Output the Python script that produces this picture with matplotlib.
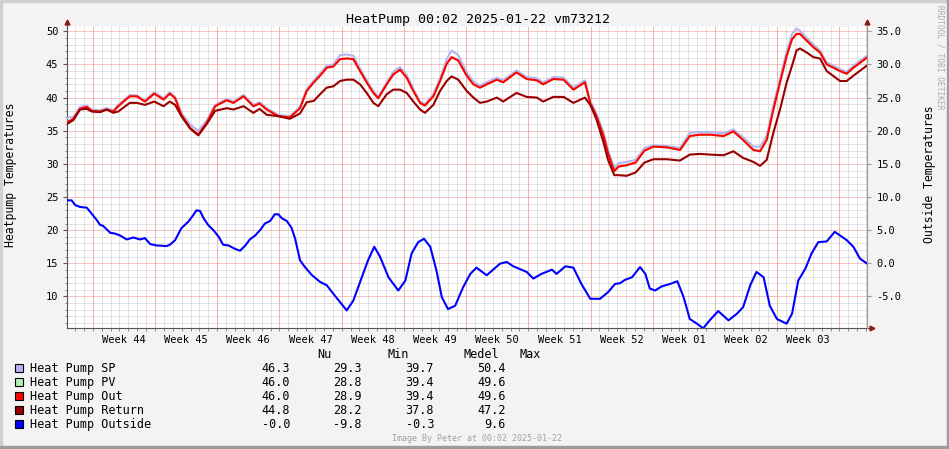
import numpy as np
import matplotlib
matplotlib.use("Agg")
import matplotlib.pyplot as plt
from matplotlib.patches import Rectangle

plt.rcParams['font.family'] = ['DejaVu Sans Mono']

# ---- data (days since start of the 90 day window) ----
heat_days = [0, 0.75, 1.5, 2.25, 2.8, 3.75, 4.5, 5.25, 5.8, 6.4, 7.1, 7.9, 8.8, 9.85, 10.9, 11.6,
             12.2, 12.9, 13.9, 14.8, 15.75, 16.7, 18, 18.75, 19.9, 21, 21.7, 22.5, 23.8, 25.1,
             26.25, 27, 27.8, 28.5, 29.25, 30, 30.75, 31.5, 32.25, 33, 33.75, 34.5, 35.05, 36,
             36.75, 37.5, 38.25, 39, 39.75, 40.3, 41.25, 42, 42.75, 43.3, 44.05, 45, 45.75, 46.5,
             47.25, 48.4, 49.1, 50.6, 51.75, 52.9, 53.6, 54.75, 55.9, 57, 58.3, 58.9, 59.6, 60.4,
             60.9, 61.6, 62.1, 63, 64, 65, 66, 67.5, 69, 70.1, 71.25, 72.4, 73.9, 75, 76.1, 77.25,
             78, 78.75, 79.5, 80.25, 81, 81.6, 82.1, 82.5, 83.25, 84, 84.75, 85.5, 87, 87.75,
             88.5, 90]
sp_vals = [36.9, 37.1, 38.6, 38.8, 38.2, 38.1, 38.4, 38.1, 38.9, 39.6, 40.4, 40.3, 39.6, 40.8, 39.9, 40.8,
           40.1, 37.7, 35.9, 35.0, 36.5, 38.9, 39.8, 39.4, 40.4, 38.9, 39.3, 38.4, 37.4, 37.2,
           38.6, 41.3, 42.6, 43.6, 44.8, 45.0, 46.4, 46.5, 46.3, 44.4, 42.6, 41.0, 40.1, 42.3,
           43.9, 44.6, 43.4, 41.3, 39.4, 39.0, 40.5, 42.9, 45.8, 47.1, 46.4, 43.8, 42.4, 41.8,
           42.3, 43.0, 42.6, 44.1, 43.1, 42.9, 42.3, 43.1, 43.0, 41.5, 42.6, 39.5, 37.6, 34.7,
           32.1, 29.4, 30.1, 30.3, 30.6, 32.4, 32.8, 32.7, 32.4, 34.7, 34.8, 34.8, 34.6, 35.2, 34.0, 32.6,
           32.6, 34.2, 38.8, 42.9, 47.0, 49.6, 50.4, 50.1, 49.0, 48.0, 47.1, 45.3, 44.3, 43.9,
           44.8, 46.3]
out_vals = [36.2, 36.8, 38.3, 38.6, 38.0, 37.9, 38.2, 37.9, 38.7, 39.4, 40.2, 40.2, 39.4, 40.6, 39.7, 40.6,
            39.9, 37.4, 35.4, 34.4, 36.2, 38.7, 39.6, 39.2, 40.2, 38.7, 39.1, 38.2, 37.2, 37.0,
            38.4, 41.0, 42.3, 43.3, 44.5, 44.7, 45.8, 45.9, 45.8, 44.0, 42.3, 40.7, 39.9, 42.0,
            43.5, 44.2, 43.0, 41.0, 39.2, 38.8, 40.2, 42.5, 45.1, 46.1, 45.6, 43.3, 42.0, 41.5,
            42.0, 42.7, 42.3, 43.8, 42.8, 42.6, 42.0, 42.8, 42.7, 41.2, 42.3, 39.2, 37.2, 34.2,
            31.6, 28.9, 29.6, 29.8, 30.2, 32.0, 32.6, 32.5, 32.1, 34.2, 34.4, 34.4, 34.2, 34.9, 33.6, 32.1,
            31.9, 33.6, 38.2, 42.3, 46.3, 48.8, 49.6, 49.6, 48.6, 47.6, 46.8, 45.0, 44.0, 43.6,
            44.5, 46.0]
# PV follows Out so closely that it is completely hidden underneath it
pv_vals = list(out_vals)
ret_vals = [36.0, 36.6, 38.2, 38.3, 37.9, 37.8, 38.2, 37.7, 37.9, 38.5, 39.2, 39.2, 38.9, 39.4, 38.7, 39.4,
            38.9, 37.2, 35.3, 34.3, 36.0, 38.0, 38.4, 38.2, 38.7, 37.7, 38.3, 37.4, 37.2, 36.8,
            37.6, 39.3, 39.5, 40.5, 41.5, 41.7, 42.5, 42.7, 42.7, 42.0, 40.7, 39.2, 38.7, 40.5,
            41.2, 41.2, 40.7, 39.4, 38.2, 37.7, 38.9, 41.0, 42.5, 43.2, 42.7, 41.0, 40.0, 39.2,
            39.4, 40.0, 39.4, 40.7, 40.1, 40.0, 39.4, 40.1, 40.1, 39.2, 40.0, 38.9, 36.7, 33.2,
            30.6, 28.3, 28.3, 28.2, 28.7, 30.2, 30.7, 30.7, 30.5, 31.4, 31.5, 31.4, 31.3, 31.9, 30.9, 30.3,
            29.7, 30.6, 34.7, 38.2, 42.3, 44.8, 47.1, 47.4, 46.8, 46.1, 45.9, 44.0, 42.5, 42.5,
            43.3, 44.8]

outside_days = [0, 0.56, 0.94, 1.5, 2.25, 2.8, 3.4, 3.75, 4.1, 4.9, 5.4, 6, 6.75, 7.5, 8.25, 8.8, 9.4,
                10.1, 11.25, 11.6, 12.2, 12.9, 13.7, 14.25, 14.6, 15, 15.4, 15.9, 16.5, 17.1, 17.6,
                18.2, 18.9, 19.5, 20.1, 20.6, 21.2, 21.75, 22.3, 22.9, 23.4, 23.8, 24.2, 24.75, 25.3,
                25.7, 26.25, 26.8, 27.6, 28.5, 29.25, 30, 30.9, 31.5, 32.25, 33.2, 33.9, 34.6, 35.25,
                36.2, 37.3, 38.1, 38.8, 39.55, 40.2, 40.9, 41.6, 42.2, 42.9, 43.7, 44.6, 45.4, 46.1,
                47.25, 48.75, 49.5, 50.25, 51.75, 52.5, 53.4, 54.6, 55.1, 56.1, 57, 57.9, 58.9, 60,
                60.9, 61.7, 62.25, 62.8, 63.6, 64.5, 65.1, 65.6, 66.2, 66.9, 67.9, 68.7, 69.4, 70.1,
                70.9, 71.6, 72.4, 73.3, 74.45, 75.4, 76.1, 76.9, 77.6, 78.4, 79.1, 79.9, 81, 81.6,
                82.3, 83.1, 83.8, 84.55, 85.5, 86.4, 87, 87.75, 88.5, 89.25, 90]
outside_vals = [9.5, 9.5, 8.8, 8.5, 8.4, 7.5, 6.5, 5.8, 5.65, 4.6, 4.5, 4.2, 3.6, 3.9, 3.6, 3.8, 2.9,
                2.7, 2.6, 2.8, 3.5, 5.3, 6.3, 7.3, 8.0, 7.9, 6.8, 5.8, 5.0, 4.0, 2.8,
                2.7, 2.2, 1.9, 2.7, 3.6, 4.2, 5.0, 6.0, 6.4, 7.4, 7.4, 6.8, 6.4, 5.35,
                3.7, 0.45, -0.56, -1.8, -2.8, -3.3, -4.6, -6.1, -7.1, -5.6, -2.1, 0.45, 2.5, 1.0,
                -2.1, -4.1, -2.6, 1.5, 3.2, 3.7, 2.5, -1.1, -5.1, -6.9, -6.4, -3.6, -1.6, -0.65,
                -1.8, -0.05, 0.2, -0.45, -1.3, -2.3, -1.6, -0.95, -1.6, -0.45, -0.65, -3.1, -5.35, -5.35,
                -4.35, -3.1, -3.0, -2.5, -2.1, -0.56, -1.6, -3.8, -4.1, -3.5, -3.1, -2.7, -5.1, -8.4,
                -9.1, -9.8, -8.5, -7.2, -8.6, -7.6, -6.6, -3.3, -1.3, -2.1, -6.4, -8.4, -9.1, -7.6,
                -2.6, -0.8, 1.5, 3.2, 3.3, 4.75, 4.2, 3.5, 2.5, 0.7, -0.0]

week_labels = ['Week 44', 'Week 45', 'Week 46', 'Week 47', 'Week 48', 'Week 49',
               'Week 50', 'Week 51', 'Week 52', 'Week 01', 'Week 02', 'Week 03']
first_sunday = 2.93   # days from window start to first week boundary

series_names = ['Heat Pump SP', 'Heat Pump PV', 'Heat Pump Out', 'Heat Pump Return', 'Heat Pump Outside']
series_colors = ['#B4B4F4', '#B4F0B4', '#FF0000', '#990000', '#0000FF']
stat_header = ['Nu', 'Min', 'Medel', 'Max']
stat_nu = ['46.3', '46.0', '46.0', '44.8', '-0.0']
stat_min = ['29.3', '28.8', '28.9', '28.2', '-9.8']
stat_avg = ['39.7', '39.4', '39.4', '37.8', '-0.3']
stat_max = ['50.4', '49.6', '49.6', '47.2', '9.6']

# ---- figure ----
W, H = 949, 449
fig = plt.figure(figsize=(W / 100, H / 100), dpi=100, facecolor='#F3F3F3')


def fx(x):
    return x / W


def fy(y):
    return 1 - y / H


# frame of the image
fig.patches.append(Rectangle((0, fy(2)), 1, 2 / H, transform=fig.transFigure, color='#D0D0D0', zorder=0))
fig.patches.append(Rectangle((0, 0), 2 / W, 1, transform=fig.transFigure, color='#D0D0D0', zorder=0))
fig.patches.append(Rectangle((0, 0), 1, 3 / H, transform=fig.transFigure, color='#9C9C9C', zorder=0))
fig.patches.append(Rectangle((fx(947), 0), 2 / W, 1, transform=fig.transFigure, color='#9C9C9C', zorder=0))

ax = fig.add_axes([fx(66.7), fy(328.3), 800 / W, 301 / H])
ax.set_facecolor('white')
ylo, yhi = 5.2, 50.6
shift = 15.0
ax.set_xlim(0, 90)
ax.set_ylim(ylo, yhi)

# grid
dot = (0, (1, 1))
majors = np.arange(first_sunday, 90, 7)
days = np.arange(first_sunday - 2, 90, 1)
for d in days:
    ax.axvline(d, color='#C8C8C8', lw=0.72, ls=dot, zorder=1)
for v in range(6, 51):
    if v % 5:
        ax.axhline(v, color='#C8C8C8', lw=0.72, ls=dot, zorder=1)
for d in majors:
    ax.axvline(d, color='#F08A8A', lw=0.72, ls=dot, zorder=2)
for v in range(10, 51, 5):
    ax.axhline(v, color='#F08A8A', lw=0.72, ls=dot, zorder=2)

# lines
ax.plot(heat_days, sp_vals, color=series_colors[0], lw=1.5, zorder=5)
ax.plot(heat_days, pv_vals, color=series_colors[1], lw=1.5, zorder=5)
ax.plot(heat_days, out_vals, color=series_colors[2], lw=1.5, zorder=5)
ax.plot(heat_days, ret_vals, color=series_colors[3], lw=1.5, zorder=5)

ax2 = ax.twinx()
ax2.set_ylim(ylo - shift, yhi - shift)
ax2.plot(outside_days, outside_vals, color=series_colors[4], lw=1.5, zorder=5)

# axes styling
for a in (ax, ax2):
    for s in a.spines.values():
        s.set_visible(False)
ax.spines['left'].set_visible(True)
ax.spines['bottom'].set_visible(True)
ax.spines['left'].set_color('#555555')
ax.spines['bottom'].set_color('#555555')
ax2.spines['right'].set_visible(True)
ax2.spines['right'].set_color('#999999')

ax.set_yticks(range(10, 51, 5))
ax.set_yticklabels([str(v) for v in range(10, 51, 5)])
ax.set_yticks(range(6, 51), minor=True)
ax.tick_params(axis='y', which='major', length=3, width=0.8, color='#555555', pad=3, labelsize=7.5)
ax.tick_params(axis='y', which='minor', length=1.5, width=0.6, color='#777777')

ax.set_xticks(first_sunday + 3.5 + 7 * np.arange(len(week_labels)))
ax.set_xticklabels(week_labels)
ax.set_xticks(days, minor=True)
ax.tick_params(axis='x', which='major', length=0, pad=5, labelsize=7.5)
ax.tick_params(axis='x', which='minor', length=2, width=0.6, color='#777777')

rticks = list(range(-5, 36, 5))
ax2.set_yticks(rticks)
ax2.set_yticklabels(['%.1f' % v for v in rticks])
ax2.tick_params(axis='y', length=3, width=0.8, color='#999999', pad=4, labelsize=7.5)

# axis extensions with arrows
ax.plot([0, 0], [1, 1.012], transform=ax.transAxes, color='#555555', lw=0.8, clip_on=False)
ax.plot([1, 1.006], [0, 0], transform=ax.transAxes, color='#555555', lw=0.8, clip_on=False)
ax.plot([1, 1], [1, 1.012], transform=ax.transAxes, color='#999999', lw=0.8, clip_on=False)
ax.plot([0], [1.016], transform=ax.transAxes, marker='^', ms=3.5, color='#8B1A1A', clip_on=False)
ax.plot([1], [1.016], transform=ax.transAxes, marker='^', ms=3.5, color='#8B1A1A', clip_on=False)
ax.plot([1.007], [0], transform=ax.transAxes, marker='>', ms=3.5, color='#8B1A1A', clip_on=False)

# texts
fig.text(fx(478), fy(19.7), 'HeatPump 00:02 2025-01-22 vm73212', ha='center', va='center', fontsize=9.6)
fig.text(fx(11), fy(175), 'Heatpump Temperatures', rotation=90, ha='center', va='center', fontsize=8.3)
fig.text(fx(929), fy(174), 'Outside Temperatures', rotation=90, ha='center', va='center', fontsize=8.3)
fig.text(fx(940), fy(5), 'RRDTOOL / TOBI OETIKER', rotation=270, ha='center', va='top',
         fontsize=5.7, color='#ABABAB')
fig.text(fx(477), fy(438.3), 'Image By Peter at 00:02 2025-01-22', ha='center', va='center',
         fontsize=6, color='#A0A0A0')

# legend block
hdr_x = [317.3, 387.3, 464, 520]
for name, x in zip(stat_header, hdr_x):
    fig.text(fx(x), fy(354), name, ha='left', va='center', fontsize=8.5)
row_y = [368.3, 382.2, 396.3, 410.3, 424.3]
col_x = [290, 361.7, 434, 506]
for i, name in enumerate(series_names):
    y = row_y[i]
    fig.patches.append(Rectangle((fx(15.3), fy(y + 4)), 8 / W, 8 / H, transform=fig.transFigure,
                                 facecolor=series_colors[i], edgecolor='black', lw=0.8))
    fig.text(fx(30), fy(y), name, ha='left', va='center', fontsize=8.5)
    for col, x in zip([stat_nu, stat_min, stat_avg, stat_max], col_x):
        fig.text(fx(x), fy(y), col[i], ha='right', va='center', fontsize=8.5)

fig.savefig('out.png', dpi=100, facecolor=fig.get_facecolor())
